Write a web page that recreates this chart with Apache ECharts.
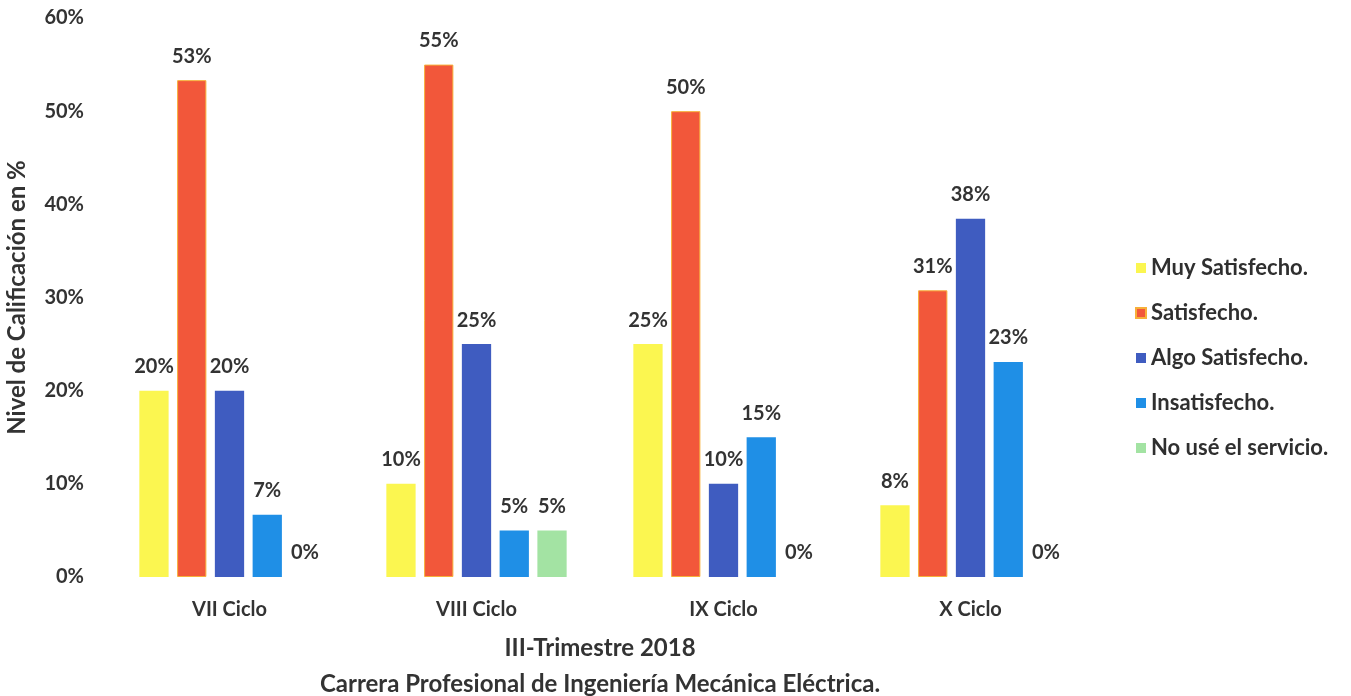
<!DOCTYPE html>
<html>
<head>
<meta charset="utf-8">
<script src="https://cdn.jsdelivr.net/npm/echarts@6/dist/echarts.min.js"></script>
<style>html,body{margin:0;padding:0;background:#fff;}#c{width:1351px;height:696px;}</style>
</head>
<body>
<div id="c"></div>
<script>
var categories = ['VII Ciclo', 'VIII Ciclo', 'IX Ciclo', 'X Ciclo'];
var muySatisfecho = [20, 10, 25, 7.69];
var satisfecho = [53.33, 55, 50, 30.77];
var algoSatisfecho = [20, 25, 10, 38.46];
var insatisfecho = [6.67, 5, 15, 23.08];
var noUse = [0, 5, 0, 0];
var seriesNames = ['Muy Satisfecho.', 'Satisfecho.', 'Algo Satisfecho.', 'Insatisfecho.', 'No usé el servicio.'];
var yTicks = [0, 10, 20, 30, 40, 50, 60];

var colors = ['#fbf650', '#f2573a', '#3f5cc0', '#1f8fe6', '#a3e3a3'];
var borders = ['#fbf650', '#f7b03a', '#3f5cc0', '#1f8fe6', '#a3e3a3'];
var borderW = [0, 1, 0, 0, 0];
var dataSets = [muySatisfecho, satisfecho, algoSatisfecho, insatisfecho, noUse];
var FONT = 'Lato';
var chart = echarts.init(document.getElementById('c'));
chart.setOption({
  animation: false,
  textStyle: { fontFamily: FONT },
  grid: { left: 106, right: 257, top: 18, bottom: 119, outerBoundsMode: 'none', containLabel: false },
  legend: {
    orient: 'vertical', left: 1130, top: 252, itemWidth: 10, itemHeight: 10, itemGap: 23,
    icon: 'rect',
    textStyle: { fontFamily: FONT, fontWeight: 'bold', fontSize: 22, color: '#2f2f2f' },
    data: seriesNames
  },
  xAxis: {
    type: 'category', data: categories,
    axisLine: { show: false }, axisTick: { show: false },
    axisLabel: { fontFamily: FONT, fontWeight: 'bold', fontSize: 20, color: '#333', margin: 23 },
    name: 'III-Trimestre 2018\nCarrera Profesional de Ingeniería Mecánica Eléctrica.',
    nameLocation: 'middle', nameGap: 53,
    nameTextStyle: { fontFamily: FONT, fontWeight: 'bold', fontSize: 24, color: '#333', lineHeight: 36, verticalAlign: 'top' }
  },
  yAxis: {
    type: 'value', min: 0, max: 60, interval: 10,
    splitLine: { show: false }, axisLine: { show: false }, axisTick: { show: false },
    axisLabel: { fontFamily: FONT, fontWeight: 'bold', fontSize: 20, color: '#333', margin: 22,
      formatter: function (v) { return yTicks.indexOf(v) >= 0 ? v + '%' : ''; } },
    name: 'Nivel de Calificación en %', nameLocation: 'middle', nameGap: 77, nameRotate: 90,
    nameTextStyle: { fontFamily: FONT, fontWeight: 'bold', fontSize: 24, color: '#333' }
  },
  series: seriesNames.map(function (n, i) {
    return {
      name: n, type: 'bar', data: dataSets[i],
      barGap: '29%', barCategoryGap: '27%',
      itemStyle: { color: colors[i], borderColor: borders[i], borderWidth: borderW[i] },
      label: { show: true, position: 'top', distance: 14, fontFamily: FONT, fontWeight: 'bold', fontSize: 20, color: '#333',
        formatter: function (p) { return Math.round(p.value) + '%'; } }
    };
  })
});
</script>
</body>
</html>
